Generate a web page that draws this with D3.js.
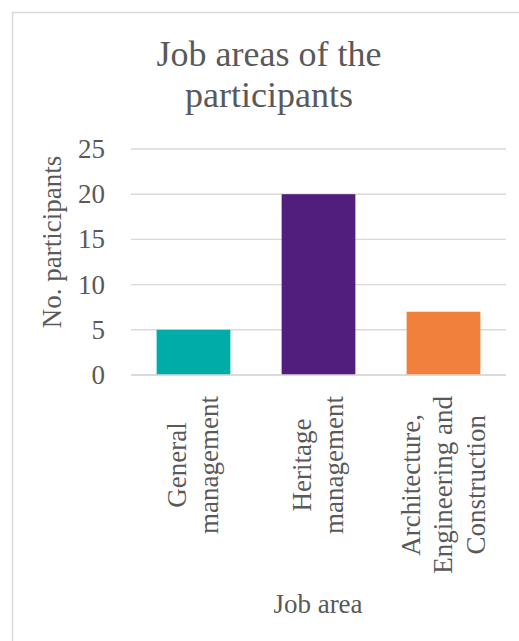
<!DOCTYPE html>
<html>
<head>
<meta charset="utf-8">
<script src="https://cdn.jsdelivr.net/npm/d3@7"></script>
<style>
  html, body { margin: 0; padding: 0; background: #fff; }
  svg { display: block; }
  text { font-family: "Liberation Serif", "Times New Roman", serif; fill: #595959; }
</style>
</head>
<body>
<script>
const categories = [
  ["General", "management"],
  ["Heritage", "management"],
  ["Architecture,", "Engineering and", "Construction"]
];
const values = [5, 20, 7];
const barColors = ["#00ACA8", "#511E7E", "#F0803C"];
const yTicks = [0, 5, 10, 15, 20, 25];
const titleLines = ["Job areas of the", "participants"];
const yTitle = "No. participants";
const xTitle = "Job area";

const W = 519, H = 641;
const svg = d3.select("body").append("svg").attr("width", W).attr("height", H);

// chart border (only top/left visible in the frame)
svg.append("rect")
  .attr("x", 12.5).attr("y", 12.5)
  .attr("width", 620).attr("height", 720)
  .attr("fill", "none").attr("stroke", "#d9d9d9").attr("stroke-width", 1.5);

const x = d3.scaleBand()
  .domain(d3.range(values.length))
  .range([131, 506])
  .paddingInner(0.41)
  .paddingOuter(0.205);

const y = d3.scaleLinear().domain([0, 25]).range([375, 149]);

// gridlines
svg.append("g").selectAll("line")
  .data(yTicks)
  .join("line")
  .attr("x1", 131).attr("x2", 506)
  .attr("y1", d => y(d)).attr("y2", d => y(d))
  .attr("stroke", "#d9d9d9").attr("stroke-width", 1.4);

// bars
svg.append("g").selectAll("rect")
  .data(values)
  .join("rect")
  .attr("x", (d, i) => x(i))
  .attr("width", x.bandwidth())
  .attr("y", d => y(d))
  .attr("height", d => y(0) - y(d))
  .attr("fill", (d, i) => barColors[i]);

// redraw baseline on top
svg.append("line")
  .attr("x1", 131).attr("x2", 506)
  .attr("y1", y(0)).attr("y2", y(0))
  .attr("stroke", "#d9d9d9").attr("stroke-width", 1.4);

// y tick labels
svg.append("g").selectAll("text")
  .data(yTicks)
  .join("text")
  .attr("x", 105)
  .attr("y", d => y(d))
  .attr("dy", "0.33em")
  .attr("text-anchor", "end")
  .attr("font-size", 27)
  .text(d => d);

// category labels (rotated, multi-line)
const lineGap = 32.5;
const labelTop = 396;
categories.forEach((lines, i) => {
  const cx = x(i) + x.bandwidth() / 2;
  const g = svg.append("g");
  const texts = lines.map((ln, j) => g.append("text")
    .attr("font-size", 27)
    .attr("text-anchor", "middle")
    .text(ln));
  const maxLen = d3.max(texts, t => t.node().getComputedTextLength());
  const cy = labelTop + maxLen / 2;
  texts.forEach((t, j) => {
    const lx = cx + (j - (lines.length - 1) / 2) * lineGap + 8.5;
    t.attr("transform", `translate(${lx},${cy}) rotate(-90)`);
  });
});

// y axis title
svg.append("text")
  .attr("transform", "translate(61,242) rotate(-90)")
  .attr("text-anchor", "middle")
  .attr("font-size", 27)
  .text(yTitle);

// x axis title
svg.append("text")
  .attr("x", 318).attr("y", 613)
  .attr("text-anchor", "middle")
  .attr("font-size", 27)
  .text(xTitle);

// chart title
svg.append("g").selectAll("text")
  .data(titleLines)
  .join("text")
  .attr("x", 269)
  .attr("y", (d, i) => 66 + i * 41)
  .attr("text-anchor", "middle")
  .attr("font-size", 36)
  .text(d => d);
</script>
</body>
</html>
